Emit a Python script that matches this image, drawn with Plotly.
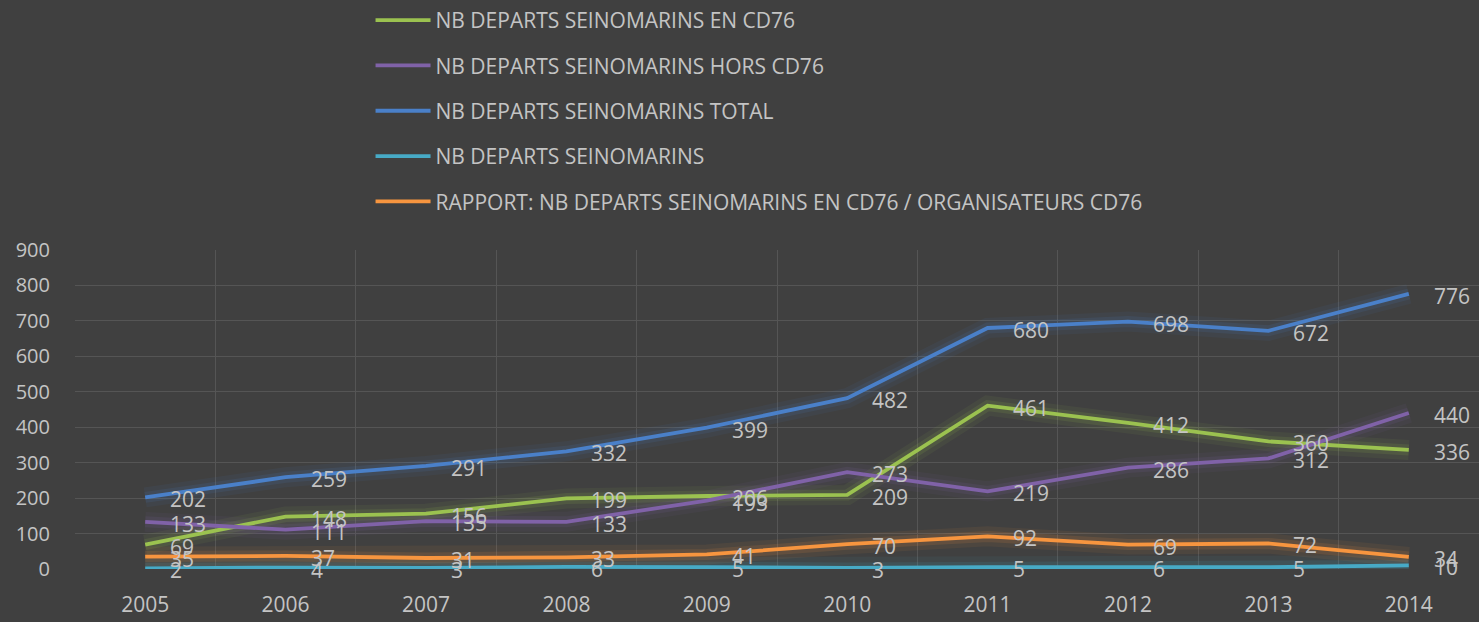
import plotly.graph_objects as go

years = ["2005", "2006", "2007", "2008", "2009", "2010", "2011", "2012", "2013", "2014"]
en_cd76 = [69, 148, 156, 199, 206, 209, 461, 412, 360, 336]
hors_cd76 = [133, 111, 135, 133, 193, 273, 219, 286, 312, 440]
total = [202, 259, 291, 332, 399, 482, 680, 698, 672, 776]
seinomarins = [2, 4, 3, 6, 5, 3, 5, 6, 5, 10]
rapport = [35, 37, 31, 33, 41, 70, 92, 69, 72, 34]

series = [
    ("NB DEPARTS SEINOMARINS EN CD76", en_cd76, "#9bc250"),
    ("NB DEPARTS SEINOMARINS HORS CD76", hors_cd76, "#8062a8"),
    ("NB DEPARTS SEINOMARINS TOTAL", total, "#4a80c9"),
    ("NB DEPARTS SEINOMARINS", seinomarins, "#47aac6"),
    ("RAPPORT: NB DEPARTS SEINOMARINS EN CD76 / ORGANISATEURS CD76", rapport, "#f7953f"),
]

FONT = "Open Sans"
TXT = "#c4c4c4"
xs = list(range(len(years)))

fig = go.Figure()
# glow layers
for name, vals, col in series:
    for w, op in ((20, 0.07), (11, 0.12)):
        fig.add_trace(go.Scatter(x=xs, y=vals, mode="lines", line=dict(color=col, width=w),
                                 opacity=op, showlegend=False, hoverinfo="skip"))
annotations = []
for i, (name, vals, col) in enumerate(series):
    fig.add_trace(go.Scatter(x=xs, y=vals, mode="lines", name=name, legendgroup=str(i),
                             line=dict(color=col, width=3.8)))
    for x, v in zip(xs, vals):
        annotations.append(dict(x=x, y=v, xref="x", yref="y", text=str(v), showarrow=False,
                                xanchor="left", yanchor="middle", xshift=23, yshift=-2,
                                font=dict(family=FONT, size=21, color=TXT)))

fig.update_layout(
    width=1479, height=622,
    paper_bgcolor="#404040", plot_bgcolor="#404040",
    margin=dict(l=75, r=0, t=249, b=53),
    font=dict(family=FONT, size=21, color=TXT),
    annotations=annotations,
    legend=dict(x=0.2105, y=1.783, xanchor="left", yanchor="top", orientation="v",
                bgcolor="rgba(0,0,0,0)", font=dict(family=FONT, size=21, color=TXT),
                tracegroupgap=15, itemwidth=55),
    showlegend=True,
)
fig.update_xaxes(range=[-0.5, 9.5], tickvals=xs, ticktext=years, showgrid=False, zeroline=False,
                 ticks="outside", ticklen=17, tickcolor="rgba(0,0,0,0)",
                 tickfont=dict(family=FONT, size=21, color=TXT),
                 minor=dict(tickvals=[x - 0.5 for x in xs] + [9.5], showgrid=True,
                            gridcolor="#555555", gridwidth=1))
fig.update_yaxes(range=[0, 900], dtick=100, gridcolor="#555555", gridwidth=1, zeroline=False,
                 ticks="outside", ticklen=20, tickcolor="rgba(0,0,0,0)",
                 tickfont=dict(family=FONT, size=20, color=TXT))

fig.write_html("out.html", config={"displayModeBar": False},
               post_script="document.body.style.margin='0';document.body.style.overflow='hidden';")
